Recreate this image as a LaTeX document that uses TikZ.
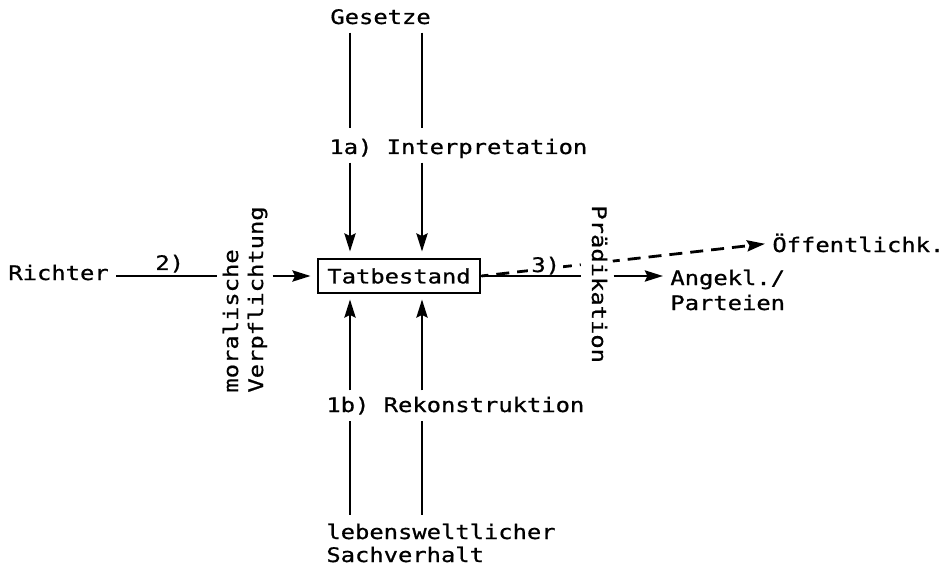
\documentclass[tikz,border=0pt]{standalone}
\usepackage{fontspec}
\setmonofont[FakeStretch=1.19,FakeBold=0.8]{DejaVu Sans Mono}
\usetikzlibrary{arrows.meta,calc}
\begin{document}
\begin{tikzpicture}[x=0.5pt,y=-0.5pt,
  txt/.style={font=\ttfamily\fontsize{10}{12.5}\selectfont},
  lbl/.style={txt,inner sep=0pt,anchor=base west},
  ln/.style={line width=1.4pt},
  arr/.style={ln,-{Stealth[length=9pt,width=5.5pt,inset=1.2pt]}},
  dsh/.style={arr,dash pattern=on 6.5pt off 4pt,dash phase=3pt},
  mask/.style={fill=white,inner xsep=1.5pt},
]
\useasboundingbox (0,0) rectangle (945,566);

% columns of the vertical connectors
\coordinate (cl) at (350,0);
\coordinate (cr) at (422,0);

% central box
\node[txt,draw,line width=1.4pt,inner sep=0pt,minimum width=81pt,minimum height=17pt] (box) at (399,276) {Tatbestand};

% labels (two-line labels are placed by the baseline of their last line)
\node[lbl] (gesetze) at (330,24) {Gesetze};
\node[lbl] (interp) at (329,154) {1a) Interpretation};
\node[lbl] (rekon) at (326,412) {1b) Rekonstruktion};
\node[lbl,align=left,font=\ttfamily\fontsize{10}{11.5}\selectfont] (leb) at (326,562) {lebensweltlicher\\Sachverhalt};
\node[lbl] (richter) at (8,280) {Richter};
\node[lbl] (two) at (155,270) {2)};
\node[lbl,rotate=90,align=left] (moral) at (263,393) {moralische\\Verpflichtung};
\node[lbl,rotate=-90] (pred) at (592,205) {Prädikation};
\node[lbl,align=left] (angekl) at (670,310) {Angekl./\\Parteien};
\node[lbl] (oeff) at (772,252) {Öffentlichk.};

\foreach \c in {cl,cr}{
  % 1a) laws -> interpretation -> box
  \draw[ln,shorten <=4pt,shorten >=5pt] (gesetze.south -| \c) -- (interp.north -| \c);
  \draw[arr,shorten <=2pt,shorten >=3pt] (interp.south -| \c) -- (box.north -| \c);
  % 1b) state of affairs -> reconstruction -> box
  \draw[arr,shorten <=3pt,shorten >=2.5pt] (rekon.north -| \c) -- (box.south -| \c);
  \draw[ln,shorten <=3pt,shorten >=4pt] (rekon.south -| \c) -- (leb.north -| \c);
}

% 2) judge -> moral obligation -> box
\draw[ln,shorten <=3.5pt,shorten >=2.5pt] (richter.east |- box.west) -- (moral.north |- box.west);
\draw[arr,shorten <=2.5pt,shorten >=3pt] (moral.south |- box.west) -- (box.west);

% 3) predication -> defendants / public
\draw[ln,shorten >=5pt] (box.east) -- (pred.south |- box.east);
\draw[arr,shorten <=3pt,shorten >=3.5pt] (pred.north |- box.east) -- (angekl.west |- box.east);
\draw[dsh,-] (box.east) -- ($(box.east)!0.342!(oeff.west)$);
\draw[dsh,shorten >=3.5pt] ($(box.east)!0.452!(oeff.west)$) -- (oeff.west);
\node[lbl,mask] (three) at (528,272) {3)};
\end{tikzpicture}
\end{document}
